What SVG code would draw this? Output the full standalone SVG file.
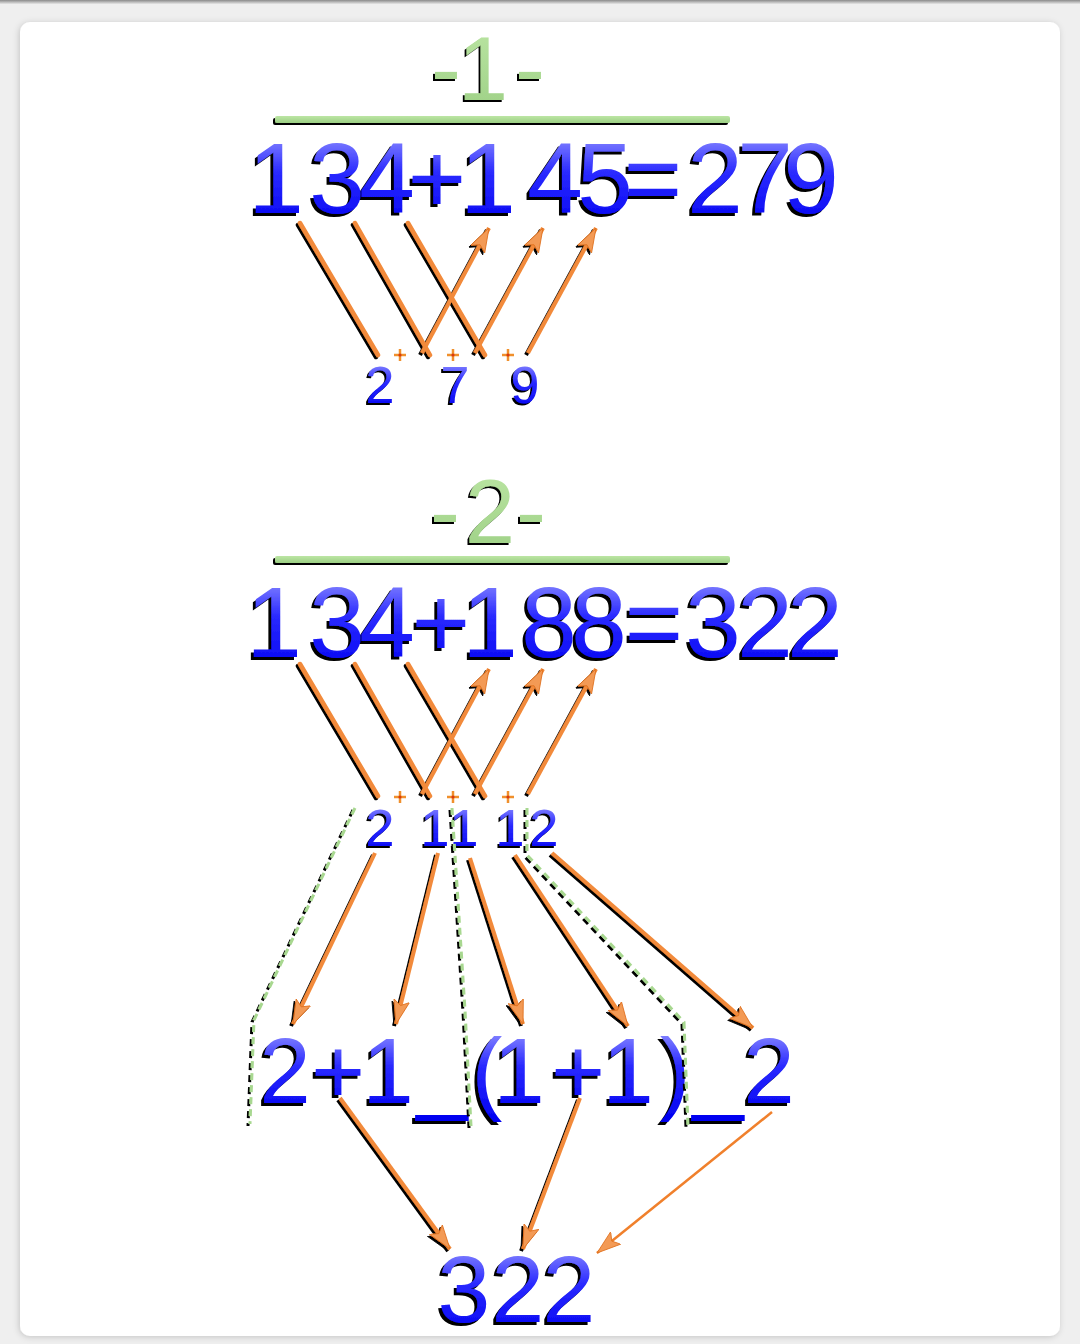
<svg xmlns="http://www.w3.org/2000/svg" width="1080" height="1344" viewBox="0 0 1080 1344">
<defs>
<linearGradient id="blueG" x1="0" y1="0" x2="0" y2="1">
<stop offset="0" stop-color="#a8a8ff"/>
<stop offset="0.45" stop-color="#2a2aff"/>
<stop offset="1" stop-color="#0000f0"/>
</linearGradient>
<linearGradient id="greenG" x1="0" y1="0" x2="0" y2="1">
<stop offset="0" stop-color="#bce6a4"/>
<stop offset="1" stop-color="#9ccf84"/>
</linearGradient>
<linearGradient id="topBar" x1="0" y1="0" x2="0" y2="1">
<stop offset="0" stop-color="#8a8a8a"/>
<stop offset="1" stop-color="#e6e6e6"/>
</linearGradient>
<filter id="sh" x="-10%" y="-10%" width="120%" height="130%">
<feDropShadow dx="-3" dy="3" stdDeviation="0.5" flood-color="#000" flood-opacity="1"/>
</filter>
<filter id="shs" x="-10%" y="-10%" width="120%" height="130%">
<feDropShadow dx="-2" dy="2" stdDeviation="0.4" flood-color="#000" flood-opacity="1"/>
</filter>
<filter id="card" x="-5%" y="-5%" width="110%" height="110%">
<feDropShadow dx="-1" dy="1" stdDeviation="3" flood-color="#000" flood-opacity="0.18"/>
</filter>
<marker id="ah" markerUnits="userSpaceOnUse" markerWidth="28" markerHeight="20" refX="24" refY="9" orient="auto">
<path d="M0,1 L24,9 L0,17 L5,9 Z" fill="#f39a55" stroke="#e0701e" stroke-width="0.8"/>
</marker>
<style>
.big{font-family:"Liberation Sans",Arial,sans-serif;font-size:100px;fill:url(#blueG);text-anchor:middle;filter:url(#sh)}
.res{font-family:"Liberation Sans",Arial,sans-serif;font-size:95px;fill:url(#blueG);text-anchor:middle;filter:url(#sh)}
.mid{font-family:"Liberation Sans",Arial,sans-serif;font-size:92px;fill:url(#blueG);text-anchor:middle;filter:url(#sh)}
.sm{font-family:"Liberation Sans",Arial,sans-serif;font-size:52px;fill:url(#blueG);text-anchor:middle;filter:url(#shs)}
.ttl{font-family:"Liberation Sans",Arial,sans-serif;font-size:90px;fill:url(#greenG);text-anchor:middle;filter:url(#shs)}
.bar{fill:url(#greenG);filter:url(#shs)}
.ln{stroke:#f28a3a;stroke-width:4.5;fill:none;stroke-linecap:round}
.arr{stroke:#f28a3a;stroke-width:4;fill:none;marker-end:url(#ah)}
.thin{stroke:#f0802c;stroke-width:2.5;fill:none;marker-end:url(#ah)}
.dash{stroke:#a8d890;stroke-width:3;fill:none;stroke-dasharray:7 5}
.cross{stroke:#f0902c;stroke-width:2.5;fill:none}
.crossc{fill:#d83a10}
</style>
</defs>
<rect x="0" y="0" width="1080" height="1344" fill="#efefef"/>
<rect x="0" y="0" width="1080" height="4" fill="url(#topBar)"/>
<rect x="20" y="22" width="1040" height="1314" rx="10" fill="#ffffff" filter="url(#card)"/>

<g id="section1-title"><text class="ttl" x="446 483 530" y="100">-1-</text></g>
<g id="section1-rule"><rect class="bar" x="275" y="116" width="455" height="7" rx="2"/></g>
<g id="equation1"><text class="big" x="276 337 387 437 488 555 605 653 715 765 811" y="213">134+145=279</text></g>
<g id="digits1"><text class="sm" x="380 455 525" y="403">279</text></g>

<g id="section2-title"><text class="ttl" x="445 490 531" y="543">-2-</text></g>
<g id="section2-rule"><rect class="bar" x="275" y="556" width="455" height="7" rx="2"/></g>
<g id="equation2"><text class="big" x="274 337 387 441 490 549 599 654 713 765 815" y="657">134+188=322</text></g>
<g id="digits2"><text class="sm" x="380 435 464 510 544" y="846">21112</text></g>

<g id="expansion"><text class="mid" x="285 338 388 442 487 519 578 628 675 718 769" y="1103">2+1_(1+1)_2</text></g>
<g id="result"><text class="res" x="464 518 569" y="1322">322</text></g>

<g id="connectors">
<g id="crosses">
<path class="cross" d="M394,355 h12 M400,349 v12 M447,355 h12 M453,349 v12 M502,355 h12 M508,349 v12"/>
<path class="cross" d="M394,797 h12 M400,791 v12 M447,797 h12 M453,791 v12 M502,797 h12 M508,791 v12"/>
<g class="crossc">
<circle cx="400" cy="355" r="1.6"/><circle cx="453" cy="355" r="1.6"/><circle cx="508" cy="355" r="1.6"/>
<circle cx="400" cy="797" r="1.6"/><circle cx="453" cy="797" r="1.6"/><circle cx="508" cy="797" r="1.6"/>
</g>
</g>
<g filter="url(#shs)">
<line class="ln" x1="300" y1="223" x2="378" y2="355"/>
<line class="ln" x1="355" y1="223" x2="430" y2="355"/>
<line class="ln" x1="408" y1="223" x2="485" y2="355"/>
<line class="arr" x1="422" y1="353" x2="489" y2="228"/>
<line class="arr" x1="475" y1="353" x2="543" y2="228"/>
<line class="arr" x1="528" y1="353" x2="596" y2="228"/>

<line class="ln" x1="300" y1="664" x2="378" y2="796"/>
<line class="ln" x1="355" y1="664" x2="430" y2="796"/>
<line class="ln" x1="408" y1="664" x2="485" y2="796"/>
<line class="arr" x1="422" y1="794" x2="489" y2="669"/>
<line class="arr" x1="475" y1="794" x2="543" y2="669"/>
<line class="arr" x1="528" y1="794" x2="596" y2="669"/>

<path class="dash" d="M355,808 L254,1020 L250,1124"/>
<path class="dash" d="M452,808 L465,1010 L471,1126"/>
<path class="dash" d="M527,808 L527,855 L684,1022 L688,1126"/>

<line class="arr" x1="375" y1="853" x2="293" y2="1024"/>
<line class="arr" x1="438" y1="853" x2="396" y2="1024"/>
<line class="arr" x1="470" y1="858" x2="523" y2="1024"/>
<line class="arr" x1="515" y1="855" x2="628" y2="1026"/>
<line class="arr" x1="552" y1="853" x2="753" y2="1028"/>

<line class="arr" x1="340" y1="1098" x2="450" y2="1249"/>
<line class="arr" x1="580" y1="1098" x2="523" y2="1249"/>
</g>
<line class="thin" x1="772" y1="1112" x2="597" y2="1253"/>
</g>
</svg>
